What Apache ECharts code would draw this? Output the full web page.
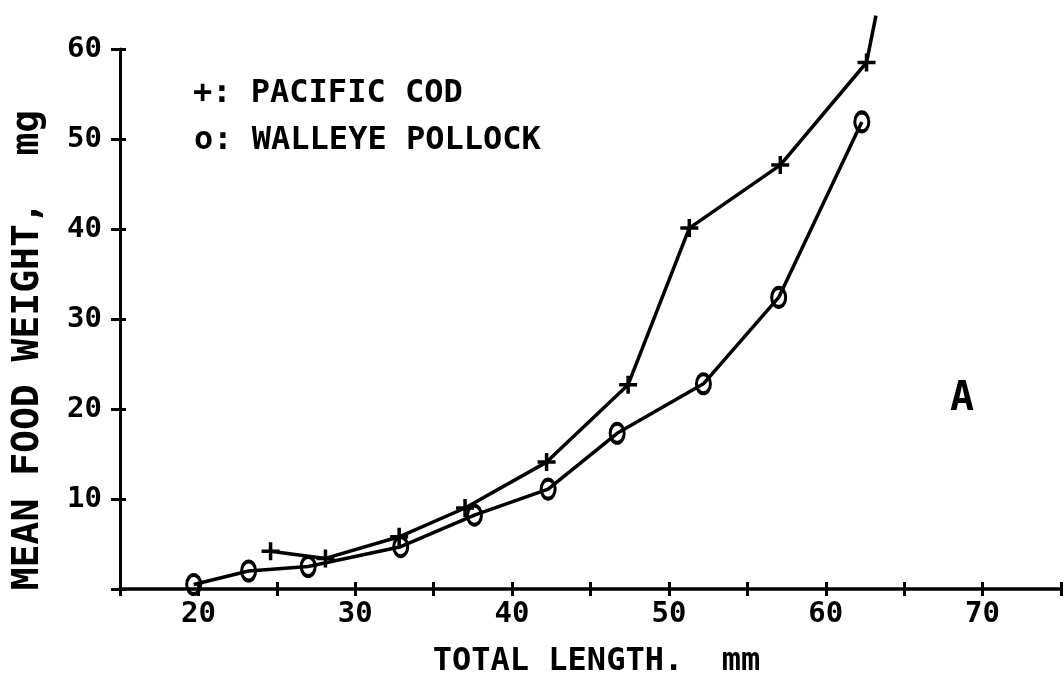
<!DOCTYPE html>
<html>
<head>
<meta charset="utf-8">
<script src="https://cdn.jsdelivr.net/npm/echarts@6/dist/echarts.min.js"></script>
<style>
  html, body { margin: 0; padding: 0; background: #fff; }
  #chart { width: 1064px; height: 683px; }
</style>
</head>
<body>
<div id="chart"></div>
<script>
// Pacific cod: total length (mm) vs mean food weight (mg)
const codLength = [24.6, 28.1, 32.8, 37.0, 42.2, 47.4, 51.3, 57.1, 62.6];
const codWeight = [4.2, 3.4, 5.8, 9.0, 14.1, 22.7, 40.1, 47.1, 58.5];
// continuation of the cod curve beyond the last marked point
const codTailLength = [63.2];
const codTailWeight = [63.7];
// Walleye pollock
const pollockLength = [19.7, 23.2, 27.0, 32.9, 37.6, 42.3, 46.7, 52.2, 57.0, 62.3];
const pollockWeight = [0.5, 2.0, 2.5, 4.7, 8.2, 11.1, 17.3, 22.8, 32.4, 51.9];
// labelled ticks
const xTickLabels = [20, 30, 40, 50, 60, 70];
const yTickLabels = [10, 20, 30, 40, 50, 60];

const FONT = 'DejaVu Sans Mono';
const INK = '#000';

const plusSymbol = 'path://M0,10 L20,10 M10,0 L10,20';
const ovalSymbol = 'path://M0,-9 A6.5,9 0 1,1 0,9 A6.5,9 0 1,1 0,-9 Z';

const codData = codLength.map((x, i) => [x, codWeight[i]])
  .concat(codTailLength.map((x, i) => ({ value: [x, codTailWeight[i]], symbol: 'none' })));
const pollockData = pollockLength.map((x, i) => [x, pollockWeight[i]]);

const chart = echarts.init(document.getElementById('chart'), null, { renderer: 'canvas' });

const xBase = { type: 'value', min: 15, max: 75, interval: 5, position: 'bottom', splitLine: { show: false } };
const yBase = { type: 'value', min: 0, max: 60, interval: 10, position: 'left', splitLine: { show: false } };

chart.setOption({
  animation: false,
  backgroundColor: '#fff',
  grid: { left: 120, right: 3, top: 49, bottom: 94, containLabel: false },
  xAxis: [
    Object.assign({}, xBase, {
      axisLine: { show: true, onZero: false, lineStyle: { color: INK, width: 3.5 } },
      axisTick: { show: true, inside: false, length: 7, lineStyle: { color: INK, width: 3 } },
      axisLabel: {
        show: true, margin: 11, color: INK, fontFamily: FONT, fontWeight: 'bold', fontSize: 29,
        formatter: v => (xTickLabels.includes(v) ? String(v) : '')
      },
      name: 'TOTAL LENGTH.  mm',
      nameLocation: 'middle',
      nameGap: 57,
      nameTextStyle: { color: INK, fontFamily: FONT, fontWeight: 'bold', fontSize: 32, padding: [0, 0, 0, 12] }
    }),
    Object.assign({}, xBase, {
      axisLine: { show: false },
      axisTick: { show: true, inside: true, length: 7, lineStyle: { color: INK, width: 3 } },
      axisLabel: { show: false }
    })
  ],
  yAxis: [
    Object.assign({}, yBase, {
      axisLine: { show: true, onZero: false, lineStyle: { color: INK, width: 3 } },
      axisTick: { show: true, inside: false, length: 9, lineStyle: { color: INK, width: 3 } },
      axisLabel: {
        show: true, margin: 18, color: INK, fontFamily: FONT, fontWeight: 'bold', fontSize: 29,
        formatter: v => (yTickLabels.includes(v) ? String(v) : '')
      }
    }),
    Object.assign({}, yBase, {
      axisLine: { show: false },
      axisTick: { show: true, inside: true, length: 6, lineStyle: { color: INK, width: 3 } },
      axisLabel: { show: false }
    })
  ],
  graphic: [
    {
      type: 'text', x: 28, y: 350, rotation: Math.PI / 2,
      style: {
        text: 'MEAN FOOD WEIGHT,  mg', fill: INK, font: 'bold 38px "' + FONT + '"',
        textAlign: 'center', textVerticalAlign: 'middle'
      }
    },
    {
      type: 'text', x: 193, y: 94,
      style: { text: '+: PACIFIC COD', fill: INK, font: 'bold 32px "' + FONT + '"', textVerticalAlign: 'middle' }
    },
    {
      type: 'text', x: 194, y: 141,
      style: { text: 'o: WALLEYE POLLOCK', fill: INK, font: 'bold 32px "' + FONT + '"', textVerticalAlign: 'middle' }
    },
    {
      type: 'text', x: 962, y: 400,
      style: { text: 'A', fill: INK, font: 'bold 40px "' + FONT + '"', textAlign: 'center', textVerticalAlign: 'middle' }
    }
  ],
  series: [
    {
      name: 'PACIFIC COD', type: 'line', xAxisIndex: 0, yAxisIndex: 0, clip: false,
      data: codData,
      symbol: plusSymbol, symbolSize: 18, showAllSymbol: true,
      itemStyle: { color: 'transparent', borderColor: INK, borderWidth: 3.5 },
      lineStyle: { color: INK, width: 3.5 },
      z: 3
    },
    {
      name: 'WALLEYE POLLOCK', type: 'line', xAxisIndex: 0, yAxisIndex: 0, clip: false,
      data: pollockData,
      symbol: ovalSymbol, symbolSize: [14, 19], showAllSymbol: true,
      itemStyle: { color: 'transparent', borderColor: INK, borderWidth: 3.5 },
      lineStyle: { color: INK, width: 3.5 },
      z: 3
    }
  ]
});
</script>
</body>
</html>
